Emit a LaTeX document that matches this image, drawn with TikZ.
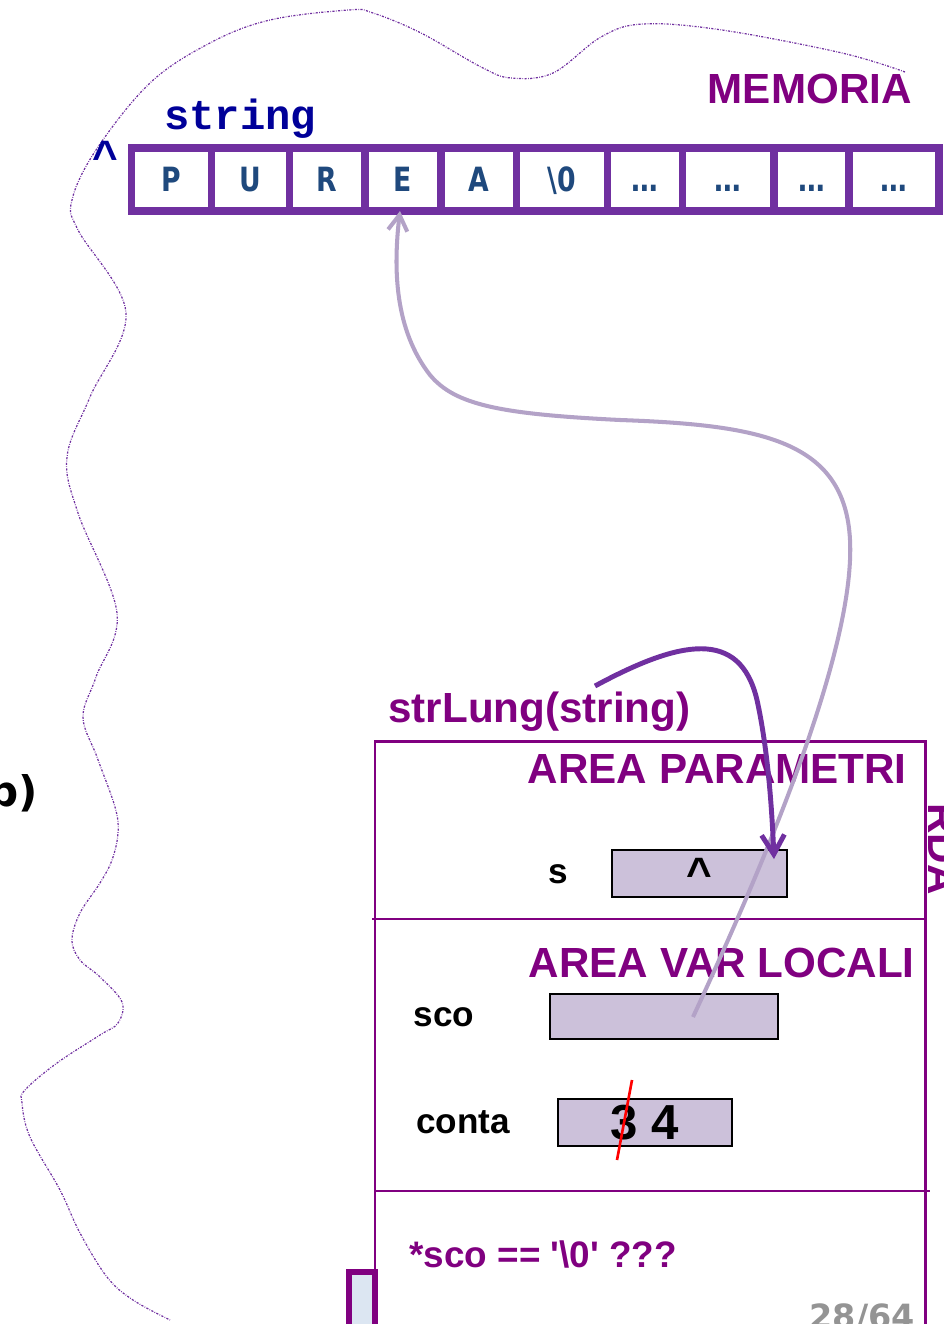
\documentclass[tikz,border=0pt]{standalone}
\usepackage{fontspec}
\setmainfont{Liberation Sans}
\newfontfamily\codefont{Liberation Mono}
\newfontfamily\cellfont{DejaVu Sans}[FakeStretch=0.8]
\newfontfamily\pagefont{DejaVu Sans}
\usepackage{xcolor}
\definecolor{memframe}{RGB}{112,48,160}
\definecolor{celltext}{RGB}{31,73,125}
\definecolor{navy}{RGB}{0,0,153}
\definecolor{rdapurple}{RGB}{128,0,128}
\definecolor{lilac}{RGB}{204,193,218}
\definecolor{arrowlilac}{RGB}{179,162,199}
\definecolor{paleblue}{RGB}{220,230,242}
\usepackage{tikz}
\usetikzlibrary{arrows.meta,positioning,calc}
\newcommand{\px}{0.02cm}
\tikzset{
  cell/.style={draw=memframe,line width=4.4pt,fill=white,inner sep=0pt,outer sep=0pt,%
    minimum height=63*\px,text height=13.5pt,text depth=0pt,%
    font=\cellfont\bfseries\fontsize{19}{21}\selectfont,text=celltext},
  heading/.style={font=\bfseries\fontsize{24}{28}\selectfont,text=rdapurple,inner sep=0pt},
  varname/.style={font=\bfseries\fontsize{20}{24}\selectfont,inner sep=0pt},
  valbox/.style={draw=black,line width=1.1pt,fill=lilac,inner sep=0pt},
  rdaline/.style={draw=rdapurple,line width=1.7pt},
  divline/.style={draw=rdapurple,line width=1.1pt},
  memwave/.style={draw=memframe,line width=0.7pt,%
    dash pattern=on 1.2pt off 0.8pt on 0.4pt off 0.8pt},
  ptrlight/.style={-{Straight Barb[length=9pt,width=11pt]},draw=arrowlilac,line width=2.3pt},
  ptrdark/.style={-{Straight Barb[length=11pt,width=13pt]},draw=memframe,line width=2.8pt},
}

\begin{document}
\begin{tikzpicture}[x=\px,y=-\px]
\useasboundingbox (0,0) rectangle (943,1324);
\clip (0,0) rectangle (943,1324);

% boundary of the memory
\draw[memwave] plot[smooth,tension=0.6] coordinates {
  (905,72) (842,53) (722,30) (643,24) (601,37) (553,73) (511,78) (481,67)
  (421,33) (373,13) (349,10) (270,20) (210,43) (150,83) (96,150) (72,200)
  (78,230) (126,313) (90,397) (67,457) (78,513) (117,613) (96,677) (83,717)
  (97,757) (115,807) (118,833) (112,860) (100,883) (80,913) (72,940) (80,960)
  (100,977) (122,1002) (118,1023) (100,1035) (57,1063) (25,1090) (22,1103)
  (30,1137) (60,1190) (80,1233) (107,1277) (133,1300) (170,1320)};

% array in memory
\foreach \cx/\w/\t/\n in {171.5/80/P/c1, 250.5/78/U/c2, 327.25/75.5/R/c3,
    403/76/E/c4, 478.75/75.5/A/c5, 562/91/\textbackslash 0/c6,
    645/75/\ldots/c7, 728.25/91.5/\ldots/c8, 811.5/75/\ldots/c9, 894/90/\ldots/c10}
  \node[cell,minimum width=\w*\px] (\n) at (\cx,179.5) {\t};

\node[heading,anchor=base east] (mem) at (912,104) {MEMORIA};
\node[font=\codefont\bfseries\fontsize{24}{28}\selectfont,text=navy,inner sep=0pt,
  anchor=base west] (strname) at (164,130) {string};
\node[font=\bfseries\fontsize{25}{28}\selectfont,text=navy,inner sep=0pt,
  anchor=base] (strptr) at (105,172) {\textasciicircum};

% cut-off text at the left and right
\node[font=\pagefont\bfseries\fontsize{24}{28}\selectfont,inner sep=0pt,
  anchor=base east] (codefrag) at (38,806) {p)};
\node[heading,rotate=-90,anchor=base west] (rda) at (928,803) {RDA};

% activation record of strLung
\node[heading,anchor=base west] (call) at (388,722) {strLung(string)};
\draw[rdaline] (375,1269) -- (375,741) -- (925,741) -- (925,1330);
\draw[divline] (372,919) -- (927,919);
\draw[divline] (375,1191) -- (930,1191);
\node[heading,anchor=base east] (parhead) at (907,783) {AREA PARAMETRI};
\node[heading,anchor=base east] (lochead) at (915,977) {AREA VAR LOCALI};

\node[valbox,minimum width=175*\px,minimum height=47*\px,
  font=\bfseries\fontsize{25}{28}\selectfont] (sbox) at (699.5,873.5) {\textasciicircum};
\node[varname] (sname) at (558,874) {s};
\node[valbox,minimum width=228*\px,minimum height=45*\px] (scobox) at (664,1016.5) {};
\node[varname] (sconame) at (444,1017) {sco};
\node[valbox,minimum width=174*\px,minimum height=47*\px,
  font=\bfseries\fontsize{28}{32}\selectfont] (contabox) at (645,1122.5) {3 4};
\node[varname] (contaname) at (463,1122) {conta};
\draw[red,line width=1.5pt] (632,1080) -- (617,1160);

\node[font=\bfseries\fontsize{21}{25}\selectfont,text=rdapurple,inner sep=0pt,
  anchor=base west] (cond) at (409,1267)
  {*sco == \textquotesingle\textbackslash 0\textquotesingle\ ???};

% next frame below
\draw[line width=3.4pt,draw=rdapurple,fill=paleblue] (349,1272) rectangle (375,1345);

\node[font=\pagefont\bfseries\fontsize{19}{23}\selectfont,text=black!42,inner sep=0pt,
  anchor=base east] (pagenum) at (915,1328) {28/64};

% pointers
\coordinate (scoptr) at (693,1017);
\coordinate (callptr) at (595,686);
\draw[ptrlight] (scoptr) .. controls (780,830) and (855,640) .. (850,540)
  .. controls (845,440) and (760,425) .. (620,420)
  .. controls (500,414) and (455,405) .. (430,375)
  .. controls (395,330) and (393,270) .. ([xshift=-3*\px]c4.south);
\draw[ptrdark] (callptr) .. controls (680,640) and (740,628) .. (757,700)
  .. controls (768,750) and (772,810) .. ([xshift=-14*\px,yshift=-10*\px]sbox.north east);
\end{tikzpicture}
\end{document}
